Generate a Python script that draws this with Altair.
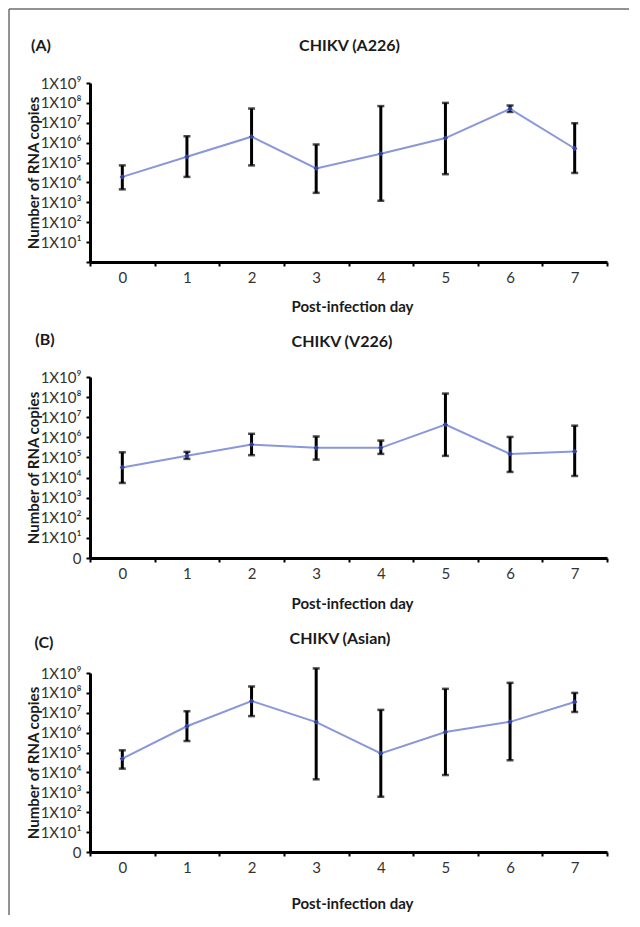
import altair as alt
import pandas as pd

days = [0, 1, 2, 3, 4, 5, 6, 7]

a226_mean = [1.9e4, 1.95e5, 2.0e6, 5.1e4, 2.8e5, 1.7e6, 5.0e7, 5.1e5]
a226_upper = [7.2e4, 2.1e6, 5.2e7, 8.1e5, 6.9e7, 1.0e8, 7.4e7, 9.5e6]
a226_lower = [4.5e3, 1.9e4, 7.2e4, 3.0e3, 1.2e3, 2.6e4, 3.5e7, 3.0e4]

v226_mean = [3.2e4, 1.2e5, 4.4e5, 3.0e5, 3.0e5, 4.3e6, 1.5e5, 2.0e5]
v226_upper = [1.8e5, 1.9e5, 1.5e6, 1.1e6, 6.9e5, 1.5e8, 1.05e6, 3.8e6]
v226_lower = [5.4e3, 8.5e4, 1.3e5, 7.8e4, 1.5e5, 1.2e5, 1.9e4, 1.2e4]

asian_mean = [4.9e4, 2.1e6, 3.9e7, 3.4e6, 9.1e4, 1.07e6, 3.5e6, 3.5e7]
asian_upper = [1.3e5, 1.2e7, 2.1e8, 1.7e9, 1.4e7, 1.6e8, 3.2e8, 1.0e8]
asian_lower = [1.55e4, 3.8e5, 6.8e6, 4.5e3, 6.0e2, 7.4e3, 4.1e4, 1.1e7]

y_ticks = [1, 10, 100, 1000, 1e4, 1e5, 1e6, 1e7, 1e8, 1e9]

FONT = "Lato"
W = 517


def panel(letter, title, mean, lower, upper, show_zero, h, layout, frame=False):
    df = pd.DataFrame({"day": days, "mean": mean, "lower": lower, "upper": upper})
    zero = '"0"' if show_zero else '""'
    n = "round(log(datum.value)/LN10)"
    yexpr = (f'datum.value < 5 ? {zero} : "1X10" + '
             f'substring("⁰¹²³⁴⁵⁶⁷⁸⁹", {n}, {n}+1)')
    xenc = alt.X(
        "day:O",
        scale=alt.Scale(type="band", paddingInner=0, paddingOuter=0),
        axis=alt.Axis(title="Post-infection day", tickBand="extent", labelAngle=0,
                      titleX=layout["xt_x"], titleY=layout["xt_y"], titleBaseline="middle",
                      titleFontSize=15, titleFontWeight="bold", titleFont=FONT,
                      titleColor="#1a1a1a", labelFont=FONT, labelFontSize=15,
                      labelColor="#333333", labelPadding=4, tickSize=4, tickWidth=2,
                      tickColor="black", domainColor="black", domainWidth=3, grid=False),
    )
    yscale = alt.Scale(type="log", domain=[1, 1e9])
    yaxis = alt.Axis(values=y_ticks, labelExpr=yexpr, title="Number of RNA copies",
                     titleX=-57, titleY=h / 2, titleBaseline="middle", titleAngle=270,
                     titleFontSize=15, titleFontWeight="bold", titleFont=FONT,
                     titleColor="#1a1a1a", labelFont=FONT, labelFontSize=15,
                     labelColor="#333333", labelPadding=5, tickSize=4, tickWidth=2,
                     tickColor="black", domainColor="black", domainWidth=3, grid=False,
                     labelOverlap=False)
    base = alt.Chart(df)
    bars = base.mark_rule(color="black", strokeWidth=3).encode(
        x=xenc, y=alt.Y("lower:Q", scale=yscale, axis=yaxis), y2="upper:Q")
    cap_hi = base.mark_tick(color="black", size=7, thickness=2.5).encode(
        x=xenc, y=alt.Y("upper:Q", scale=yscale, axis=yaxis))
    cap_lo = base.mark_tick(color="black", size=7, thickness=2.5).encode(
        x=xenc, y=alt.Y("lower:Q", scale=yscale, axis=yaxis))
    line = base.mark_line(color="#8a97d8", strokeWidth=2).encode(
        x=xenc, y=alt.Y("mean:Q", scale=yscale, axis=yaxis))
    pts = base.mark_point(filled=True, shape="diamond", size=28, color="#2e3fa6", opacity=1).encode(
        x=xenc, y=alt.Y("mean:Q", scale=yscale, axis=yaxis))
    tdf = pd.DataFrame({"t": [title], "l": [letter]})
    ttl = alt.Chart(tdf).mark_text(font=FONT, fontSize=16, fontWeight="bold",
                                   color="#1a1a1a", align="center", baseline="middle").encode(
        text="t:N", x=alt.value(layout["t_x"]), y=alt.value(layout["t_y"]))
    let = alt.Chart(tdf).mark_text(font=FONT, fontSize=16, fontWeight="bold",
                                   color="#1a1a1a", align="center", baseline="middle").encode(
        text="l:N", x=alt.value(layout["l_x"]), y=alt.value(layout["l_y"]))
    layers = [bars, cap_hi, cap_lo, line, pts, ttl, let]
    if frame:
        fdf = pd.DataFrame({"f": [0]})
        top = alt.Chart(fdf).mark_rule(color="#6e6e6e", strokeWidth=1.5).encode(
            x=alt.value(-81), x2=alt.value(539), y=alt.value(-74))
        left = alt.Chart(fdf).mark_rule(color="#6e6e6e", strokeWidth=1.5).encode(
            x=alt.value(-81), y=alt.value(-74), y2=alt.value(832))
        layers = [top, left] + layers
    return alt.layer(*layers).properties(width=W, height=h)


pA = panel("(A)", "CHIKV (A226)", a226_mean, a226_lower, a226_upper, False, 179,
           dict(t_x=259.5, t_y=-37, l_x=-49, l_y=-37, xt_x=262, xt_y=44), frame=True)
pB = panel("(B)", "CHIKV (V226)", v226_mean, v226_lower, v226_upper, True, 181,
           dict(t_x=252, t_y=-35, l_x=-45, l_y=-37, xt_x=262, xt_y=45))
pC = panel("(C)", "CHIKV (Asian)", asian_mean, asian_lower, asian_upper, True, 179,
           dict(t_x=250, t_y=-34, l_x=-46, l_y=-30, xt_x=262, xt_y=51))

chart = alt.vconcat(pA, pB, pC, spacing=115, bounds="flush").properties(
    padding=0
).configure_view(stroke=None)

chart.save("out.html", embed_options={"renderer": "svg", "actions": False})
